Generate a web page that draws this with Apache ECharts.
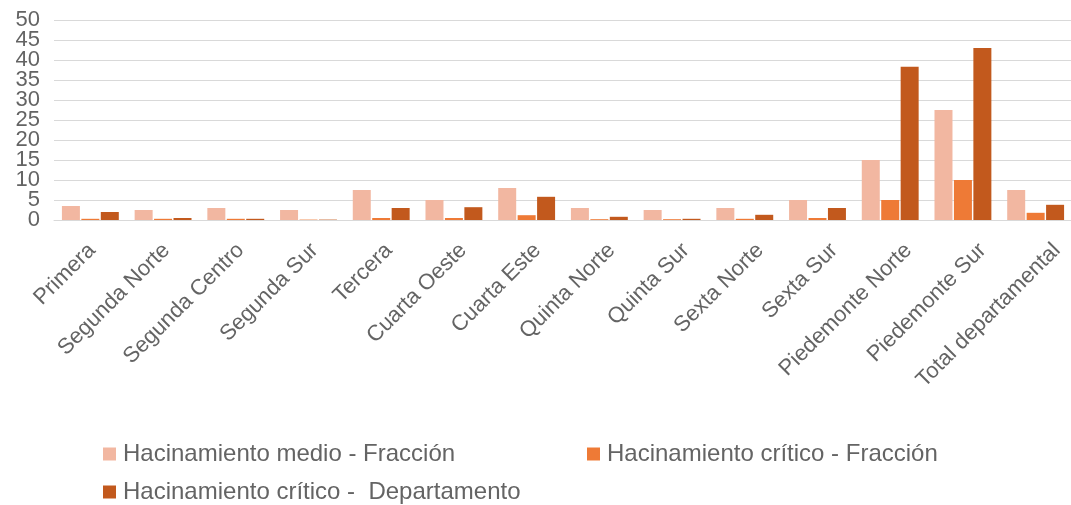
<!DOCTYPE html>
<html><head><meta charset="utf-8">
<script src="https://cdn.jsdelivr.net/npm/echarts@6/dist/echarts.min.js"></script>
<style>html,body{margin:0;padding:0;background:#fff}#c{width:1071px;height:505px}</style>
</head><body><div id="c"></div>
<script>
var categories = ["Primera","Segunda Norte","Segunda Centro","Segunda Sur","Tercera","Cuarta Oeste","Cuarta Este","Quinta Norte","Quinta Sur","Sexta Norte","Sexta Sur","Piedemonte Norte","Piedemonte Sur","Total departamental"];
var medioFraccion = [3.5, 2.5, 3, 2.5, 7.5, 5, 8, 3, 2.5, 3, 5, 15, 27.5, 7.5];
var criticoFraccion = [0.3, 0.3, 0.3, 0.1, 0.5, 0.5, 1.2, 0.2, 0.2, 0.3, 0.5, 5, 10, 1.8];
var criticoDepto = [2, 0.5, 0.3, 0.1, 3, 3.2, 5.8, 0.8, 0.3, 1.3, 3, 38.3, 43, 3.8];
var seriesNames = ["Hacinamiento medio - Fracción", "Hacinamiento crítico - Fracción", "Hacinamiento crítico -  Departamento"];
var yTicks = [0, 50, 5];

var colors = ["#f2b7a1", "#ee7a36", "#c2591d"];
var txt = "#646464";
var legendText = {color: txt, fontSize: 24, fontFamily: "Liberation Sans, Arial, sans-serif", padding: [0,0,0,2]};
var yLabelStyle = {margin: 14, color: txt, fontSize: 22, showMinLabel: true, showMaxLabel: true,
  fontFamily: "Liberation Sans Narrow, Arial Narrow, sans-serif"};
var chart = echarts.init(document.getElementById('c'), null, {renderer: 'canvas'});
chart.setOption({
  animation: false,
  color: colors,
  grid: [
    {left: 54, width: 1018, top: 20, height: 200, containLabel: false, outerBoundsMode: 'none'},
    {left: 55, width: 1039, top: 20, height: 200, containLabel: false, outerBoundsMode: 'none'}
  ],
  legend: [
    {data: [seriesNames[0]], left: 98, top: 437, itemWidth: 13, itemHeight: 13, icon: 'rect', textStyle: legendText},
    {data: [seriesNames[1]], left: 582, top: 437, itemWidth: 13, itemHeight: 13, icon: 'rect', textStyle: legendText},
    {data: [seriesNames[2]], left: 98, top: 475, itemWidth: 13, itemHeight: 13, icon: 'rect', textStyle: legendText}
  ],
  xAxis: [{
    type: 'category', data: categories, gridIndex: 0,
    axisLine: {show: true, lineStyle: {color: '#d9d9d9'}},
    axisTick: {show: false},
    axisLabel: {show: false}
  }, {
    type: 'category', data: categories, gridIndex: 1,
    axisLine: {show: false}, axisTick: {show: false},
    axisLabel: {rotate: 45, interval: 0, margin: 27, color: txt, fontSize: 22, fontFamily: "Liberation Sans, Arial, sans-serif"}
  }],
  yAxis: [{
    type: 'value', min: yTicks[0], max: yTicks[1], interval: yTicks[2], gridIndex: 0,
    axisLine: {show: false}, axisTick: {show: false},
    axisLabel: Object.assign({formatter: function (v) { return v % 10 === 0 ? String(v) : ''; }}, yLabelStyle),
    splitLine: {lineStyle: {color: '#d9d9d9', width: 1}}
  }, {
    type: 'value', min: yTicks[0], max: yTicks[1], interval: yTicks[2], gridIndex: 0, position: 'left',
    axisLine: {show: false}, axisTick: {show: false}, splitLine: {show: false},
    axisLabel: Object.assign({formatter: function (v) { return v % 10 === 5 ? String(v) : ''; }}, yLabelStyle)
  }, {
    type: 'value', min: yTicks[0], max: yTicks[1], interval: yTicks[2], gridIndex: 1, show: false
  }],
  series: [
    {name: seriesNames[0], type: 'bar', data: medioFraccion, barWidth: 18, barGap: '8%'},
    {name: seriesNames[1], type: 'bar', data: criticoFraccion, barWidth: 18, barGap: '8%'},
    {name: seriesNames[2], type: 'bar', data: criticoDepto, barWidth: 18, barGap: '8%'}
  ]
});
</script></body></html>
